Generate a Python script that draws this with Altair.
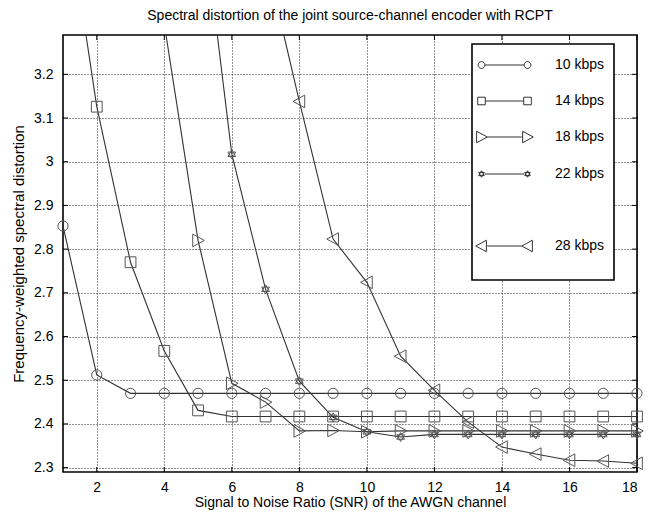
import altair as alt
import pandas as pd

# ---------------- data ----------------
series = ["10 kbps", "14 kbps", "18 kbps", "22 kbps", "28 kbps"]

snr_10 = [1, 2, 3, 4, 5, 6, 7, 8, 9, 10, 11, 12, 13, 14, 15, 16, 17, 18]
val_10 = [2.853, 2.512, 2.470, 2.470, 2.470, 2.470, 2.470, 2.470, 2.470,
          2.470, 2.470, 2.470, 2.470, 2.470, 2.470, 2.470, 2.470, 2.470]

snr_14 = [1, 2, 3, 4, 5, 6, 7, 8, 9, 10, 11, 12, 13, 14, 15, 16, 17, 18]
val_14 = [3.640, 3.126, 2.770, 2.567, 2.431, 2.417, 2.417, 2.417, 2.417,
          2.417, 2.417, 2.417, 2.417, 2.417, 2.417, 2.417, 2.417, 2.417]

snr_18 = [4, 5, 6, 7, 8, 9, 10, 11, 12, 13, 14, 15, 16, 17, 18]
val_18 = [3.315, 2.820, 2.493, 2.450, 2.384, 2.385, 2.382, 2.384, 2.384,
          2.384, 2.384, 2.384, 2.384, 2.384, 2.384]

snr_22 = [5, 6, 7, 8, 9, 10, 11, 12, 13, 14, 15, 16, 17, 18]
val_22 = [3.652, 3.017, 2.708, 2.498, 2.415, 2.382, 2.370, 2.376, 2.376,
          2.376, 2.376, 2.376, 2.376, 2.376]

snr_28 = [7, 8, 9, 10, 11, 12, 13, 14, 15, 16, 17, 18]
val_28 = [3.468, 3.138, 2.823, 2.724, 2.555, 2.477, 2.404, 2.347, 2.331,
          2.317, 2.315, 2.310]

x_ticks = [2, 4, 6, 8, 10, 12, 14, 16, 18]
y_ticks = [2.3, 2.4, 2.5, 2.6, 2.7, 2.8, 2.9, 3.0, 3.1, 3.2]

X_DOMAIN = [1, 18]
Y_DOMAIN = [2.29, 3.29]

rows = []
for name, xs_, ys_ in zip(series,
                          [snr_10, snr_14, snr_18, snr_22, snr_28],
                          [val_10, val_14, val_18, val_22, val_28]):
    for xv, yv in zip(xs_, ys_):
        rows.append({"snr": xv, "dist": yv, "series": name})
df = pd.DataFrame(rows)

# ---------------- styles ----------------
FONT = "Liberation Sans"
LINE_C = "#333333"
MARK_C = "#555555"
W, H = 574, 437


def f(v):
    return f"{v:.3f}"


def circle(cx, r):
    return (f"M{f(cx + r)},0A{f(r)},{f(r)},0,1,1,{f(cx - r)},0"
            f"A{f(r)},{f(r)},0,1,1,{f(cx + r)},0Z")


def square(cx, r):
    return (f"M{f(cx - r)},{f(-r)}L{f(cx + r)},{f(-r)}L{f(cx + r)},{f(r)}"
            f"L{f(cx - r)},{f(r)}Z")


def tri_right(cx, r):
    return f"M{f(cx - 0.85 * r)},{f(-r)}L{f(cx + r)},0L{f(cx - 0.85 * r)},{f(r)}Z"


def tri_left(cx, r):
    return f"M{f(cx + 0.85 * r)},{f(-r)}L{f(cx - r)},0L{f(cx + 0.85 * r)},{f(r)}Z"


def hexagram(cx, r):
    a = 0.866 * r
    return (f"M{f(cx)},{f(-r)}L{f(cx + a)},{f(r / 2)}L{f(cx - a)},{f(r / 2)}Z"
            f"M{f(cx)},{f(r)}L{f(cx + a)},{f(-r / 2)}L{f(cx - a)},{f(-r / 2)}Z")


marker_fns = [circle, square, tri_right, hexagram, tri_left]
marker_r = [0.85, 0.9, 1.05, 0.75, 1.05]
marker_paths = [fn(0, r) for fn, r in zip(marker_fns, marker_r)]

# legend symbols: marker - line - marker
leg_r = [0.3, 0.33, 0.5, 0.28, 0.5]
LX1, LX2 = -1.0, 3.0
legend_paths = []
for fn, r in zip(marker_fns, leg_r):
    p = fn(LX1, r) + f"M{f(LX1 + r)},0L{f(LX2 - r)},0" + fn(LX2, r)
    legend_paths.append(p)
legend_domain = series[:4] + [" "] + series[4:]
legend_range = legend_paths[:4] + ["M0,0"] + legend_paths[4:]

xs = alt.Scale(domain=X_DOMAIN, nice=False, zero=False)
ys = alt.Scale(domain=Y_DOMAIN, nice=False, zero=False)

x_axis = alt.Axis(values=x_ticks, title="Signal to Noise Ratio (SNR) of the AWGN channel",
                  grid=True, domain=False, ticks=False, labelPadding=8, titlePadding=1,
                  titleFontSize=14)
y_axis = alt.Axis(values=y_ticks, format="~g", title="Frequency-weighted spectral distortion",
                  grid=True, domain=False, ticks=False, labelPadding=10, titlePadding=7,
                  titleFontSize=15)


def X(field):
    return alt.X(field, scale=xs, axis=x_axis)


def Y(field):
    return alt.Y(field, scale=ys, axis=y_axis)


base = alt.Chart(df)

lines = base.mark_line(clip=True, color=LINE_C, strokeWidth=1.1).encode(
    x=X("snr:Q"),
    y=Y("dist:Q"),
    detail="series:N",
    order="snr:Q",
)

points = base.mark_point(filled=False, color=MARK_C, strokeWidth=1, size=144, opacity=1).encode(
    x=X("snr:Q"),
    y=Y("dist:Q"),
    shape=alt.Shape("series:N", scale=alt.Scale(domain=series, range=marker_paths), legend=None),
).transform_filter(alt.datum.dist <= Y_DOMAIN[1])

legend_layer = base.mark_point(filled=False, color=LINE_C, strokeWidth=1, clip=True).encode(
    x=X("snr:Q"),
    y=Y("dist:Q"),
    shape=alt.Shape(
        "series:N",
        scale=alt.Scale(domain=legend_domain, range=legend_range),
        legend=alt.Legend(
            orient="none", legendX=409, legendY=9, title=" ", titleOrient="bottom",
            titleFontSize=12, titlePadding=6,
            symbolSize=529, symbolStrokeWidth=1, symbolFillColor="transparent",
            symbolStrokeColor=LINE_C, symbolOpacity=1,
            labelFont=FONT, labelFontSize=14, labelColor="black", labelOffset=50,
            rowPadding=17, padding=9, strokeColor="black", fillColor="white",
        ),
    ),
).transform_filter(alt.datum.dist > Y_DOMAIN[1])

tick_x = pd.DataFrame({"t": x_ticks})
tick_y = pd.DataFrame({"t": y_ticks})
tb = alt.Chart(tick_x).mark_rule(color="black", strokeWidth=1).encode(
    x=X("t:Q"), y=alt.value(H), y2=alt.value(H - 5))
tt = alt.Chart(tick_x).mark_rule(color="black", strokeWidth=1).encode(
    x=X("t:Q"), y=alt.value(0), y2=alt.value(5))
tl = alt.Chart(tick_y).mark_rule(color="black", strokeWidth=1).encode(
    y=Y("t:Q"), x=alt.value(0), x2=alt.value(5))
tr = alt.Chart(tick_y).mark_rule(color="black", strokeWidth=1).encode(
    y=Y("t:Q"), x=alt.value(W), x2=alt.value(W - 5))

chart = alt.layer(lines, points, legend_layer, tb, tt, tl, tr).resolve_scale(
    shape="independent"
).resolve_legend(shape="independent").properties(
    width=W, height=H,
    title=alt.Title("Spectral distortion of the joint source-channel encoder with RCPT",
                    font=FONT, fontSize=14, fontWeight="normal", color="black",
                    anchor="middle", offset=12),
    autosize=alt.AutoSizeParams(type="none"),
    padding={"left": 55, "top": 27, "right": 15, "bottom": 39},
).configure_view(
    stroke="black", strokeWidth=1.6
).configure_axis(
    labelFont=FONT, labelFontSize=14, labelColor="black",
    titleFont=FONT, titleFontSize=15, titleFontWeight="normal", titleColor="black",
    gridColor="black", gridDash=[1, 2], gridWidth=1, gridOpacity=0.85,
).configure_legend(
    strokeWidth=1.6
)

chart.save("out.html", embed_options={"renderer": "svg", "actions": False})
